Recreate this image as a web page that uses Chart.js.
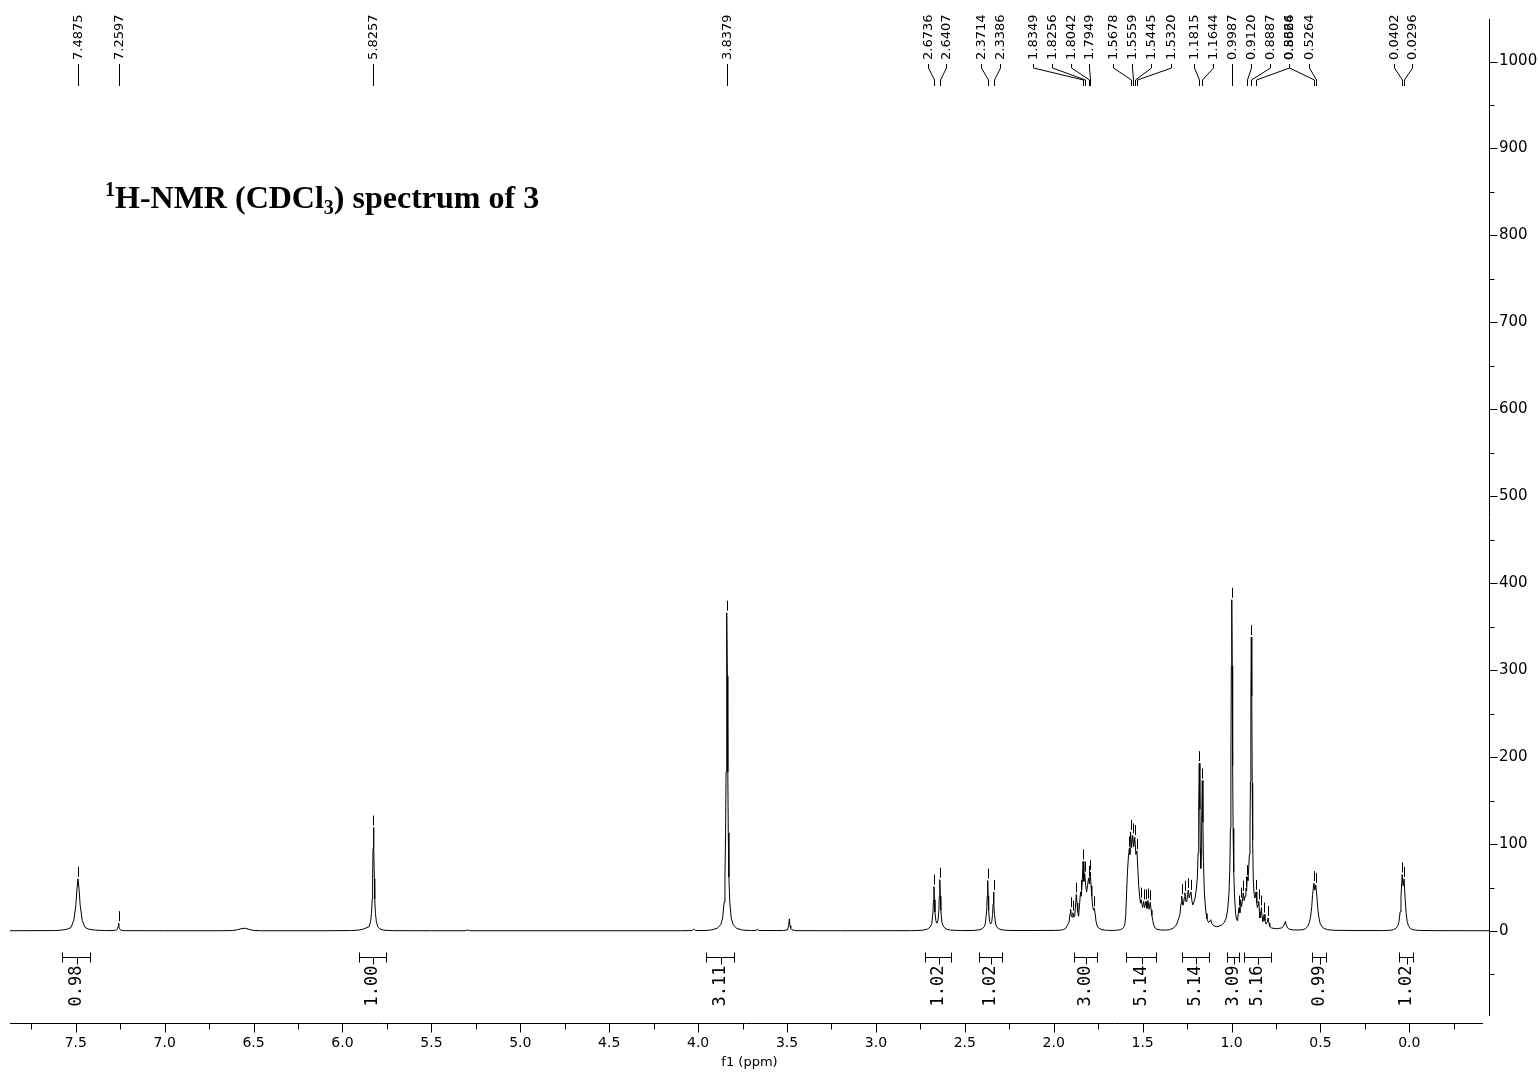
<!DOCTYPE html>
<html>
<head>
<meta charset="utf-8">
<title>1H-NMR (CDCl3) spectrum of 3</title>
<script src="https://cdn.jsdelivr.net/npm/chart.js@4.4.1/dist/chart.umd.min.js"></script>
<style>
  html, body { margin: 0; padding: 0; background: #fff; }
  #wrap { width: 1540px; height: 1073px; }
</style>
</head>
<body>
<div id="wrap"><canvas id="nmr"></canvas></div>
<script>
// spectrum trace, [ppm, intensity], high field last
const traceAromatic = [
  [7.90, 0.3], [7.62, 0.5], [7.58, 1], [7.55, 2], [7.5275, 4], [7.5115, 12], [7.4995, 30], [7.4935, 48],
  [7.4875, 60], [7.4815, 48], [7.4755, 30], [7.4635, 12], [7.4475, 4], [7.425, 2], [7.39, 1], [7.34, 0.5],
  [7.29, 0.5], [7.272, 1], [7.266, 2.5], [7.2625, 5], [7.2597, 9], [7.257, 5], [7.2535, 2.5], [7.247, 1],
  [7.23, 0.4], [7.0, 0.3], [6.70, 0.3], [6.62, 0.5], [6.59, 1.5], [6.565, 2.8], [6.548, 3.2], [6.53, 2.2],
  [6.505, 0.8], [6.46, 0.3], [6.10, 0.3], [5.95, 0.5], [5.91, 1], [5.881, 2.4], [5.850, 5], [5.842, 11],
  [5.837, 20], [5.8327, 37], [5.8307, 60], [5.8282, 95], [5.8257, 119], [5.8232, 95], [5.8207, 60], [5.8187, 37],
  [5.8147, 20], [5.8097, 11], [5.8017, 5], [5.7907, 2.4], [5.77, 1], [5.72, 0.4]
];

const traceMethoxy = [
  [5.50, 0.3], [5.31, 0.3], [5.295, 1.3], [5.285, 0.3], [4.50, 0.3], [4.10, 0.3], [4.035, 0.5], [4.025, 2.2],
  [4.015, 0.6], [3.96, 0.6], [3.93, 1.1], [3.893, 3], [3.873, 7.3], [3.862, 15], [3.854, 33], [3.849, 62],
  [3.8454, 113], [3.8429, 183], [3.8404, 293], [3.8379, 366], [3.8354, 293], [3.8329, 183], [3.8304, 113], [3.8269, 62],
  [3.8219, 33], [3.8139, 15], [3.8029, 7.3], [3.783, 3], [3.75, 1.1], [3.70, 0.5],
  [3.675, 0.6], [3.667, 2], [3.658, 0.6], [3.52, 0.5], [3.50, 1.4], [3.495, 3], [3.491, 6], [3.487, 14],
  [3.483, 6], [3.479, 3], [3.472, 1.4], [3.45, 0.4]
];

const traceAllylic = [
  [3.20, 0.3], [2.80, 0.4], [2.74, 0.8], [2.71, 2.2], [2.695, 4.5], [2.686, 8.5], [2.679, 22], [2.6765, 36],
  [2.6736, 51], [2.671, 36], [2.668, 22], [2.663, 12], [2.657, 9], [2.651, 12], [2.646, 24], [2.6435, 40],
  [2.6407, 59], [2.638, 40], [2.635, 24], [2.629, 10], [2.62, 5], [2.605, 2.2], [2.58, 1], [2.52, 0.5],
  [2.45, 0.6], [2.415, 1.5], [2.40, 3], [2.39, 5], [2.384, 9], [2.377, 24], [2.374, 40], [2.3714, 58],
  [2.369, 40], [2.366, 24], [2.361, 11], [2.355, 8], [2.349, 10], [2.344, 19], [2.341, 31], [2.3386, 45],
  [2.336, 31], [2.333, 19], [2.327, 8], [2.318, 4], [2.303, 2], [2.28, 1], [2.24, 0.6], [2.10, 0.6]
];

const traceMultiplets = [
  [1.99, 0.7], [1.96, 1], [1.945, 1.8], [1.933, 3], [1.922, 7], [1.914, 10], [1.908, 20], [1.905, 25],
  [1.901, 17], [1.897, 16], [1.892, 21], [1.887, 16], [1.882, 17], [1.876, 33], [1.873, 42], [1.869, 32],
  [1.865, 22], [1.860, 17], [1.855, 30], [1.849, 45], [1.845, 40], [1.840, 55], [1.8349, 80], [1.8305, 57],
  [1.8256, 66], [1.820, 52], [1.815, 45], [1.810, 52], [1.8042, 61], [1.7995, 54], [1.7949, 68], [1.790, 52],
  [1.786, 40], [1.781, 28], [1.776, 24], [1.7715, 26], [1.767, 20], [1.762, 11], [1.756, 6], [1.748, 3.5],
  [1.735, 2], [1.715, 1], [1.69, 0.7], [1.66, 0.7], [1.64, 1], [1.625, 1.5], [1.615, 2.5], [1.607, 4],
  [1.600, 8], [1.595, 18], [1.590, 45], [1.585, 70], [1.580, 85], [1.5748, 95], [1.5715, 88], [1.5678, 114],
  [1.562, 96], [1.5559, 110], [1.550, 97], [1.5445, 108], [1.538, 88], [1.5320, 92], [1.527, 72], [1.522, 52],
  [1.517, 40], [1.512, 32], [1.508, 36], [1.500, 27], [1.494, 34], [1.489, 27], [1.481, 34], [1.476, 26],
  [1.470, 35], [1.464, 25], [1.457, 33], [1.452, 24], [1.448, 18], [1.443, 12], [1.438, 7], [1.43, 3.5],
  [1.42, 2], [1.40, 1.2], [1.37, 1]
];

const traceMethyl = [
  [1.35, 1.5], [1.33, 3], [1.318, 5], [1.308, 8], [1.298, 14], [1.290, 19], [1.284, 32], [1.280, 40],
  [1.275, 30], [1.271, 30], [1.266, 38], [1.262, 44], [1.257, 34], [1.252, 34], [1.247, 42], [1.243, 47],
  [1.238, 38], [1.234, 38], [1.228, 45], [1.223, 35], [1.218, 30], [1.212, 33], [1.205, 38], [1.198, 48],
  [1.192, 62], [1.188, 90], [1.1845, 145], [1.1815, 193], [1.178, 140], [1.1755, 95], [1.173, 72], [1.1705, 88],
  [1.168, 125], [1.1644, 173], [1.161, 125], [1.158, 80], [1.153, 45], [1.148, 30], [1.143, 20], [1.138, 14],
  [1.13, 10], [1.122, 11], [1.117, 13], [1.112, 9], [1.10, 6], [1.085, 5], [1.07, 5.5], [1.055, 7],
  [1.04, 10], [1.03, 15], [1.022, 24], [1.0147, 42], [1.0097, 70], [1.0062, 118], [1.0037, 190], [1.0012, 305],
  [0.9987, 381], [0.9962, 305], [0.9937, 190], [0.9912, 118], [0.9877, 68], [0.9827, 38], [0.977, 20], [0.972, 14],
  [0.968, 12], [0.965, 15], [0.958, 27], [0.953, 21], [0.949, 36], [0.944, 28], [0.939, 34], [0.934, 44],
  [0.929, 35], [0.924, 40], [0.919, 49], [0.915, 46], [0.9120, 62], [0.908, 58], [0.904, 70], [0.8997, 88],
  [0.8962, 115], [0.8937, 172], [0.8912, 270], [0.8887, 338], [0.8862, 270], [0.8837, 170], [0.8812, 105], [0.8777, 60],
  [0.873, 42], [0.868, 38], [0.8624, 45], [0.858, 32], [0.855, 27], [0.851, 30], [0.847, 34], [0.843, 22],
  [0.840, 15], [0.836, 20], [0.832, 27], [0.828, 16], [0.824, 11], [0.820, 14], [0.817, 19], [0.812, 12],
  [0.806, 8], [0.800, 10], [0.794, 15], [0.789, 9], [0.785, 5], [0.775, 3.5], [0.761, 3], [0.745, 2.5],
  [0.733, 3], [0.72, 3.5], [0.71, 5], [0.702, 8], [0.697, 11], [0.692, 7], [0.685, 3.5], [0.675, 2],
  [0.65, 1.2], [0.62, 1.2]
];

const traceHighField = [
  [0.60, 1.5], [0.585, 2.5], [0.572, 5], [0.562, 10], [0.555, 17], [0.549, 28], [0.544, 42], [0.5366, 55],
  [0.5315, 47], [0.5264, 53], [0.520, 40], [0.515, 26], [0.509, 16], [0.502, 9], [0.492, 5], [0.48, 3],
  [0.46, 1.5], [0.42, 0.8], [0.30, 0.5], [0.15, 0.5], [0.11, 0.8], [0.09, 1.5], [0.075, 3], [0.065, 6],
  [0.058, 11], [0.052, 22], [0.047, 40], [0.0402, 65], [0.035, 52], [0.0296, 60], [0.024, 38], [0.018, 20],
  [0.012, 11], [0.005, 6], [-0.005, 3], [-0.02, 1.5], [-0.05, 0.7], [-0.15, 0.4], [-0.45, 0.3]
];

// picked peaks with their label slot (ppm position of the rotated text)
const peakShifts = [7.4875, 7.2597, 5.8257, 3.8379, 2.6736, 2.6407, 2.3714, 2.3386,
  1.8349, 1.8256, 1.8042, 1.7949, 1.5678, 1.5559, 1.5445, 1.5320, 1.1815, 1.1644,
  0.9987, 0.9120, 0.8887, 0.8624, 0.5366, 0.5264, 0.0402, 0.0296];
const labelSlots = [7.4875, 7.2597, 5.8257, 3.8379, 2.705, 2.604, 2.407, 2.303,
  2.115, 2.008, 1.901, 1.800, 1.665, 1.558, 1.451, 1.339, 1.209, 1.102,
  0.995, 0.889, 0.782, 0.675, 0.675, 0.562, 0.087, -0.017];
// picked but unlabelled lines (marker only)
const minorPicks = [1.905, 1.892, 1.873, 1.849, 1.7715, 1.5748, 1.508, 1.494, 1.481, 1.470, 1.457,
  1.280, 1.262, 1.243, 1.228, 0.958, 0.949, 0.934, 0.919, 0.847, 0.832, 0.817, 0.794];

// integral regions
const integralStart = [7.58, 5.905, 3.954, 2.722, 2.418, 1.884, 1.592, 1.277, 1.024, 0.928, 0.546, 0.056];
const integralEnd = [7.42, 5.754, 3.796, 2.576, 2.289, 1.755, 1.423, 1.125, 0.956, 0.776, 0.467, -0.022];
const integralArea = [0.98, 1.00, 3.11, 1.02, 1.02, 3.00, 5.14, 5.14, 3.09, 5.16, 0.99, 1.02];

const xTicks = [7.5, 7.0, 6.5, 6.0, 5.5, 5.0, 4.5, 4.0, 3.5, 3.0, 2.5, 2.0, 1.5, 1.0, 0.5, 0.0];
const yTicks = [0, 100, 200, 300, 400, 500, 600, 700, 800, 900, 1000];

const spectrum = [...traceAromatic, ...traceMethoxy, ...traceAllylic, ...traceMultiplets, ...traceMethyl, ...traceHighField]
  .map(([x, y]) => ({ x, y }));

function valueAt(ppm) {
  let best = spectrum[0];
  for (const p of spectrum) if (Math.abs(p.x - ppm) < Math.abs(best.x - ppm)) best = p;
  return best.y;
}

const SANS = '"DejaVu Sans", sans-serif';

const nmrDecor = {
  id: 'nmrDecor',
  afterDraw(chart) {
    const { ctx, chartArea: area } = chart;
    const xs = chart.scales.x, ys = chart.scales.y;
    const px = v => Math.round(xs.getPixelForValue(v)) + 0.5;
    ctx.save();
    ctx.strokeStyle = '#000';
    ctx.fillStyle = '#000';
    ctx.lineWidth = 1;

    // axis lines, they stop short of each other at the corner
    const xEnd = area.right - 6, yEnd = area.bottom - 7;
    const base = Math.round(area.bottom) + 0.5;
    const side = Math.round(area.right) + 0.5;
    ctx.beginPath();
    ctx.moveTo(area.left, base);
    ctx.lineTo(xEnd, base);
    ctx.moveTo(side, area.top);
    ctx.lineTo(side, yEnd);
    for (let k = -2; k <= 32; k++) {
      const x = px(k * 0.25);
      if (x < area.left || x > xEnd) continue;
      ctx.moveTo(x, base);
      ctx.lineTo(x, base + (k % 2 === 0 ? 9 : 6));
    }
    for (let k = -2; k <= 21; k++) {
      const y = Math.round(ys.getPixelForValue(k * 50)) + 0.5;
      if (y < area.top || y > yEnd) continue;
      ctx.moveTo(side, y);
      ctx.lineTo(side + (k % 2 === 0 && k >= 0 ? 8 : 5), y);
    }
    ctx.stroke();

    // peak markers above each picked line
    ctx.beginPath();
    [...peakShifts, ...minorPicks].forEach(p => {
      const x = px(p);
      const y = ys.getPixelForValue(valueAt(p));
      ctx.moveTo(x, y - 2);
      ctx.lineTo(x, y - 12);
    });
    ctx.stroke();

    // shift labels and their leaders
    ctx.font = '13px ' + SANS;
    ctx.textAlign = 'left';
    ctx.textBaseline = 'middle';
    ctx.beginPath();
    peakShifts.forEach((p, i) => {
      const sx = px(labelSlots[i]), pk = px(p);
      ctx.moveTo(sx, 64);
      ctx.lineTo(sx, 68);
      ctx.lineTo(pk, 80);
      ctx.lineTo(pk, 86);
    });
    ctx.stroke();
    peakShifts.forEach((p, i) => {
      ctx.save();
      ctx.translate(px(labelSlots[i]), 60);
      ctx.rotate(-Math.PI / 2);
      ctx.fillText(p.toFixed(4), 0, 0);
      ctx.restore();
    });

    // integrals under the baseline
    const iy = 957.5;
    ctx.beginPath();
    integralStart.forEach((s, i) => {
      const x1 = px(s), x2 = px(integralEnd[i]);
      const cx = Math.round((x1 + x2) / 2) + 0.5;
      ctx.moveTo(x1, iy); ctx.lineTo(x2, iy);
      ctx.moveTo(x1, iy - 5); ctx.lineTo(x1, iy + 5);
      ctx.moveTo(x2, iy - 5); ctx.lineTo(x2, iy + 5);
      ctx.moveTo(cx, iy); ctx.lineTo(cx, iy + 7);
    });
    ctx.stroke();
    ctx.font = '17px "DejaVu Sans Mono", monospace';
    ctx.textAlign = 'right';
    integralStart.forEach((s, i) => {
      const cx = (px(s) + px(integralEnd[i])) / 2;
      ctx.save();
      ctx.translate(cx, iy + 8);
      ctx.rotate(-Math.PI / 2);
      ctx.fillText(integralArea[i].toFixed(2), 0, 0);
      ctx.restore();
    });

    // heading
    const big = 'bold 32px "Liberation Serif", serif';
    const small = 'bold 20px "Liberation Serif", serif';
    ctx.textAlign = 'left';
    ctx.textBaseline = 'alphabetic';
    let tx = 105;
    const parts = [['1', small, -12], ['H-NMR (CDCl', big, 0], ['3', small, 6], [') spectrum of 3', big, 0]];
    parts.forEach(([t, f, dy]) => {
      ctx.font = f;
      ctx.fillText(t, tx, 208 + dy);
      tx += ctx.measureText(t).width;
    });
    ctx.restore();
  }
};

new Chart(document.getElementById('nmr'), {
  type: 'scatter',
  data: {
    datasets: [{
      data: spectrum,
      showLine: true,
      borderColor: '#000',
      borderWidth: 1,
      pointRadius: 0,
      tension: 0
    }]
  },
  options: {
    responsive: true,
    maintainAspectRatio: false,
    animation: false,
    layout: { padding: { left: 10, top: 8, right: 0, bottom: 0 } },
    plugins: { legend: { display: false }, tooltip: { enabled: false } },
    scales: {
      x: {
        type: 'linear',
        reverse: true,
        min: -0.448,
        max: 7.870,
        grid: { display: false, drawTicks: false, tickLength: 0 },
        border: { display: false },
        afterBuildTicks: s => { s.ticks = xTicks.map(v => ({ value: v })); },
        afterFit: s => { s.height = 50; },
        ticks: {
          padding: 12,
          maxRotation: 0,
          autoSkip: false,
          color: '#000',
          font: { family: SANS, size: 14 },
          callback: v => v.toFixed(1)
        },
        title: {
          display: true,
          text: 'f1 (ppm)',
          color: '#000',
          font: { family: SANS, size: 13 },
          padding: { top: 0, bottom: 3 }
        }
      },
      y: {
        position: 'right',
        min: -105.8,
        max: 1048.9,
        grid: { display: false, drawTicks: false, tickLength: 0 },
        border: { display: false },
        afterBuildTicks: s => { s.ticks = yTicks.map(v => ({ value: v })); },
        afterFit: s => { s.width = 51; },
        ticks: {
          padding: 10,
          color: '#000',
          font: { family: SANS, size: 15 },
          callback: v => String(v)
        }
      }
    }
  },
  plugins: [nmrDecor]
});
</script>
</body>
</html>
